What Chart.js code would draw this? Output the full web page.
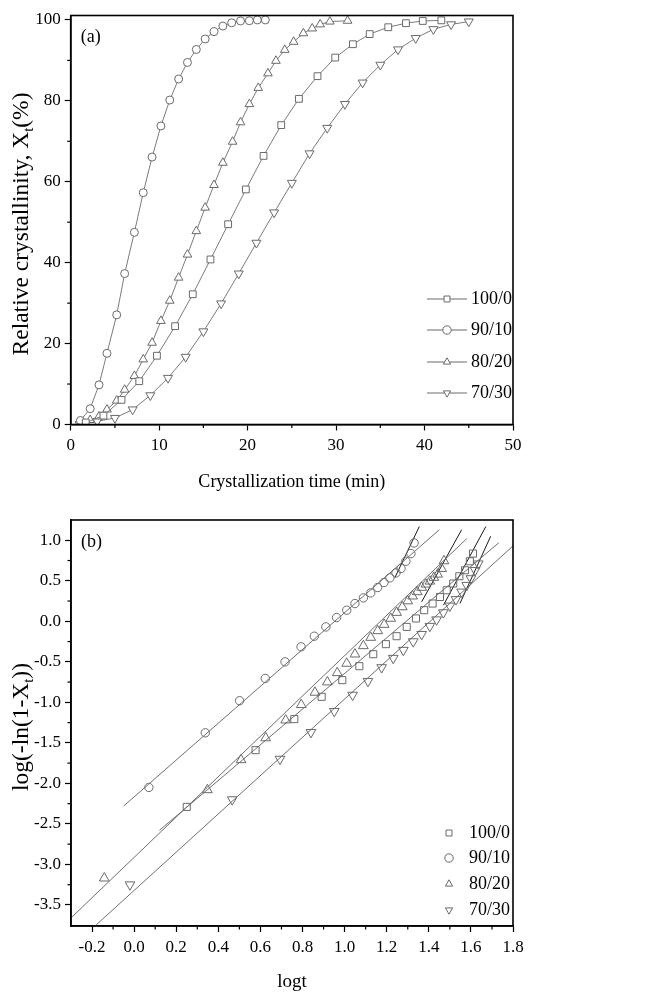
<!DOCTYPE html>
<html><head><meta charset="utf-8">
<script src="https://cdn.jsdelivr.net/npm/chart.js@4.4.0/dist/chart.umd.min.js"></script>
<style>
html,body{margin:0;padding:0;background:#fff;}
#wrap{position:relative;width:645px;height:992px;background:#fff;}
canvas{position:absolute;left:0;}
#c1{top:0;}
#c2{top:500px;}
</style></head><body>
<div id="wrap">
<canvas id="c1" width="645" height="500" style="width:645px;height:500px"></canvas>
<canvas id="c2" width="645" height="492" style="width:645px;height:492px"></canvas>
</div>
<script>
// ---------- (a) Relative crystallinity vs time ----------
const seriesNames = ['100/0', '90/10', '80/20', '70/30'];

const t_100_0 = [1.7, 3.7, 5.75, 7.75, 9.75, 11.8, 13.8, 15.8, 17.8, 19.8, 21.8, 23.8, 25.8, 27.9, 29.9, 31.9, 33.8, 35.9, 37.9, 39.8, 41.9];
const X_100_0 = [0.5, 2.2, 6.1, 10.7, 17.0, 24.3, 32.2, 40.8, 49.5, 58.1, 66.4, 74.0, 80.5, 86.1, 90.7, 94.0, 96.5, 98.2, 99.2, 99.75, 99.9];

const t_90_10 = [1.1, 2.2, 3.2, 4.1, 5.2, 6.1, 7.2, 8.2, 9.2, 10.2, 11.2, 12.2, 13.2, 14.2, 15.2, 16.2, 17.2, 18.2, 19.2, 20.2, 21.1, 22.0];
const X_90_10 = [1.0, 3.9, 9.8, 17.6, 27.1, 37.3, 47.5, 57.3, 66.1, 73.8, 80.2, 85.4, 89.5, 92.7, 95.3, 97.1, 98.5, 99.3, 99.75, 99.8, 100, 100];

const t_80_20 = [1.2, 2.2, 3.2, 4.1, 5.2, 6.1, 7.2, 8.2, 9.2, 10.2, 11.2, 12.2, 13.2, 14.2, 15.2, 16.2, 17.2, 18.3, 19.2, 20.2, 21.2, 22.3, 23.2, 24.2, 25.2, 26.3, 27.3, 28.2, 29.3, 31.3];
const X_80_20 = [0.2, 1.1, 2.0, 3.7, 5.9, 8.6, 12.0, 16.1, 20.2, 25.6, 30.6, 36.3, 42.0, 47.8, 53.6, 59.2, 64.7, 69.9, 74.7, 79.2, 83.2, 86.8, 89.9, 92.6, 94.6, 96.7, 97.9, 98.9, 99.6, 99.8];

const t_70_30 = [1, 3, 5, 7, 9, 11, 13, 15, 17, 19, 21, 23, 25, 27, 29, 31, 33, 35, 37, 39, 41, 43, 45];
const X_70_30 = [0.1, 0.8, 1.6, 3.7, 7.2, 11.5, 16.7, 23.0, 29.9, 37.3, 44.9, 52.4, 59.7, 67.0, 73.3, 79.2, 84.5, 88.9, 92.7, 95.5, 97.7, 98.9, 99.6];

const aXMajor = [0, 10, 20, 30, 40, 50];
const aXMinor = [5, 15, 25, 35, 45];
const aYMajor = [0, 20, 40, 60, 80, 100];
const aYMinor = [10, 30, 50, 70, 90];

// ---------- (b) Avrami plot ----------
const lt_100_0 = [0.25, 0.577, 0.761, 0.891, 0.989, 1.07, 1.136, 1.196, 1.247, 1.295, 1.339, 1.378, 1.418, 1.453, 1.485, 1.516, 1.545, 1.572, 1.595, 1.61];
const ly_100_0 = [-2.29, -1.59, -1.207, -0.932, -0.726, -0.554, -0.406, -0.282, -0.184, -0.069, 0.035, 0.137, 0.219, 0.30, 0.383, 0.466, 0.556, 0.63, 0.741, 0.836];

const lt_90_10 = [0.07, 0.338, 0.501, 0.623, 0.717, 0.793, 0.856, 0.911, 0.962, 1.010, 1.049, 1.089, 1.124, 1.157, 1.187, 1.215, 1.244, 1.268, 1.291, 1.315, 1.33];
const ly_90_10 = [-2.05, -1.376, -0.98, -0.705, -0.50, -0.315, -0.184, -0.069, 0.046, 0.137, 0.219, 0.289, 0.35, 0.417, 0.479, 0.536, 0.597, 0.651, 0.741, 0.836, 0.967];

const lt_80_20 = [-0.142, 0.348, 0.508, 0.625, 0.72, 0.794, 0.859, 0.918, 0.965, 1.01, 1.049, 1.089, 1.124, 1.157, 1.188, 1.219, 1.247, 1.274, 1.30, 1.323, 1.345, 1.366, 1.386, 1.405, 1.424, 1.442, 1.461, 1.472];
const ly_80_20 = [-3.17, -2.08, -1.71, -1.44, -1.22, -1.03, -0.878, -0.75, -0.636, -0.52, -0.406, -0.303, -0.20, -0.118, -0.04, 0.035, 0.108, 0.177, 0.25, 0.31, 0.363, 0.417, 0.457, 0.494, 0.54, 0.58, 0.65, 0.745];

const lt_70_30 = [-0.02, 0.466, 0.693, 0.84, 0.951, 1.038, 1.111, 1.176, 1.231, 1.279, 1.326, 1.366, 1.405, 1.437, 1.469, 1.50, 1.529, 1.556, 1.58, 1.60, 1.62, 1.635];
const ly_70_30 = [-3.25, -2.20, -1.70, -1.37, -1.11, -0.91, -0.74, -0.57, -0.455, -0.356, -0.25, -0.16, -0.06, 0.02, 0.108, 0.19, 0.27, 0.363, 0.445, 0.528, 0.63, 0.71];

// fitted lines: [logt start, logt end], [y start, y end]
const fitMain_x = {'100/0': [0.12, 1.733], '90/10': [-0.05, 1.45], '80/20': [-0.3, 1.58], '70/30': [-0.186, 1.8]};
const fitMain_y = {'100/0': [-2.58, 0.97], '90/10': [-2.28, 1.13], '80/20': [-3.66, 1.02], '70/30': [-3.76, 0.93]};
const fitLate_x = {'100/0': [1.47, 1.671], '90/10': [1.239, 1.355], '80/20': [1.366, 1.556], '70/30': [1.548, 1.694]};
const fitLate_y = {'100/0': [0.2, 1.17], '90/10': [0.54, 1.17], '80/20': [0.24, 1.13], '70/30': [0.22, 1.05]};

const bXMajor = [-0.2, 0, 0.2, 0.4, 0.6, 0.8, 1.0, 1.2, 1.4, 1.6, 1.8];
const bXMinor = [-0.1, 0.1, 0.3, 0.5, 0.7, 0.9, 1.1, 1.3, 1.5, 1.7];
const bYMajor = [-3.5, -3.0, -2.5, -2.0, -1.5, -1.0, -0.5, 0.0, 0.5, 1.0];
const bYMinor = [-3.25, -2.75, -2.25, -1.75, -1.25, -0.75, -0.25, 0.25, 0.75];

// ---------- helpers ----------
const SERIF = "'Liberation Serif', 'Times New Roman', 'DejaVu Serif', serif";
const toXY = (xs, ys) => xs.map((v, i) => ({x: v, y: ys[i]}));
const markerStyle = {
  '100/0': {pointStyle: 'rect', rotation: 0},
  '90/10': {pointStyle: 'circle', rotation: 0},
  '80/20': {pointStyle: 'triangle', rotation: 0},
  '70/30': {pointStyle: 'triangle', rotation: 180}
};
const markerColor = '#6a6a6a';

function drawMarker(ctx, style, x, y, r, fill) {
  ctx.beginPath();
  if (style === '100/0') {
    const s = r * Math.SQRT1_2;
    ctx.rect(x - s, y - s, 2 * s, 2 * s);
  } else if (style === '90/10') {
    ctx.arc(x, y, r, 0, Math.PI * 2);
  } else {
    const dir = style === '80/20' ? -1 : 1;
    const w = r * Math.sqrt(3) / 2;
    ctx.moveTo(x, y + dir * r);
    ctx.lineTo(x - w, y - dir * r / 2);
    ctx.lineTo(x + w, y - dir * r / 2);
    ctx.closePath();
  }
  ctx.fillStyle = fill; ctx.fill();
  ctx.stroke();
}

function drawTitleParts(ctx, parts, cx, cy, size, rotate) {
  ctx.save();
  ctx.translate(cx, cy);
  if (rotate) ctx.rotate(-Math.PI / 2);
  let total = 0;
  parts.forEach(p => {
    ctx.font = (p.sub ? size * 0.62 : size) + 'px ' + SERIF;
    p.w = ctx.measureText(p.t).width;
    total += p.w;
  });
  let x = -total / 2;
  ctx.fillStyle = '#000';
  ctx.textBaseline = 'middle';
  ctx.textAlign = 'left';
  parts.forEach(p => {
    ctx.font = (p.sub ? size * 0.62 : size) + 'px ' + SERIF;
    ctx.fillText(p.t, x, p.sub ? size * 0.3 : 0);
    x += p.w;
  });
  ctx.restore();
}

function decor(cfg) {
  return {
    id: 'decor',
    afterDraw(chart) {
      const ctx = chart.ctx, a = chart.chartArea;
      const xs = chart.scales.x, ys = chart.scales.y;
      ctx.save();
      ctx.strokeStyle = '#000';
      ctx.lineWidth = 1.6;
      ctx.strokeRect(a.left, a.top, a.right - a.left, a.bottom - a.top);
      ctx.lineWidth = 1.2;
      cfg.xMinor.forEach(v => {
        const p = xs.getPixelForValue(v);
        ctx.beginPath(); ctx.moveTo(p, a.bottom); ctx.lineTo(p, a.bottom + 3.5); ctx.stroke();
      });
      cfg.yMinor.forEach(v => {
        const p = ys.getPixelForValue(v);
        ctx.beginPath(); ctx.moveTo(a.left, p); ctx.lineTo(a.left - 3.5, p); ctx.stroke();
      });
      // panel label
      ctx.fillStyle = '#000';
      ctx.font = '18px ' + SERIF;
      ctx.textBaseline = 'middle';
      ctx.textAlign = 'left';
      ctx.fillText(cfg.panel, a.left + 10, a.top + 22);
      // titles
      drawTitleParts(ctx, [{t: cfg.xTitle}], (a.left + a.right) / 2, cfg.xTitleY, cfg.xTitleSize, false);
      drawTitleParts(ctx, cfg.yTitle, 22, cfg.yTitleY, cfg.yTitleSize, true);
      // legend
      ctx.lineWidth = 1;
      ctx.font = '18px ' + SERIF;
      seriesNames.forEach((name, i) => {
        const y = cfg.legRows[i];
        ctx.strokeStyle = markerColor;
        if (cfg.legLines) {
          ctx.beginPath();
          ctx.moveTo(cfg.legX - 20, y); ctx.lineTo(cfg.legX + 20, y);
          ctx.stroke();
        }
        drawMarker(ctx, name, cfg.legX, y, cfg.legR, '#fff');
        ctx.fillStyle = '#000';
        ctx.textBaseline = 'middle';
        ctx.textAlign = 'left';
        ctx.fillText(name, cfg.legTextX, y);
      });
      ctx.restore();
    }
  };
}

const tickFont = {family: SERIF, size: 17};
function fmt1(v) { return Math.abs(v) < 1e-9 ? '0.0' : v.toFixed(1); }

// ---------- chart (a) ----------
const aSets = [
  [t_100_0, X_100_0, '100/0', 4.8],
  [t_90_10, X_90_10, '90/10', 4.0],
  [t_80_20, X_80_20, '80/20', 5.0],
  [t_70_30, X_70_30, '70/30', 5.2]
].map(([xs, ys, name, r]) => ({
  label: name,
  data: toXY(xs, ys),
  showLine: true,
  borderColor: '#7c7c7c',
  borderWidth: 1,
  pointStyle: markerStyle[name].pointStyle,
  rotation: markerStyle[name].rotation,
  pointRadius: r,
  pointBorderColor: markerColor,
  pointBackgroundColor: '#fff',
  pointBorderWidth: 1
}));

new Chart(document.getElementById('c1'), {
  type: 'scatter',
  data: {datasets: aSets},
  options: {
    responsive: false, animation: false,
    layout: {padding: {left: 0, right: 132, top: 15.5, bottom: 0}},
    plugins: {legend: {display: false}, tooltip: {enabled: false}},
    scales: {
      x: {
        type: 'linear', min: 0, max: 50,
        afterFit: s => { s.height = 75.5; },
        afterBuildTicks: s => { s.ticks = aXMajor.map(v => ({value: v})); },
        ticks: {font: tickFont, color: '#000', padding: 5, maxRotation: 0, callback: v => String(v)},
        grid: {drawOnChartArea: false, drawTicks: true, tickLength: 6, tickColor: '#000', tickWidth: 1.2},
        border: {display: true, color: '#000', width: 1.6}
      },
      y: {
        type: 'linear', min: 0, max: 101.1,
        afterFit: s => { s.width = 70.7; },
        afterBuildTicks: s => { s.ticks = aYMajor.map(v => ({value: v})); },
        ticks: {font: tickFont, color: '#000', padding: 4, callback: v => String(v)},
        grid: {drawOnChartArea: false, drawTicks: true, tickLength: 6, tickColor: '#000', tickWidth: 1.2},
        border: {display: true, color: '#000', width: 1.6}
      }
    }
  },
  plugins: [decor({
    xMinor: aXMinor, yMinor: aYMinor, panel: '(a)',
    xTitle: 'Crystallization time (min)', xTitleY: 482, xTitleSize: 18,
    yTitle: [{t: 'Relative crystallinity, X'}, {t: 't', sub: true}, {t: '(%)'}], yTitleY: 224, yTitleSize: 23.5,
    legRows: [299, 330, 362, 393], legX: 447, legR: 4.2, legLines: true, legTextX: 471
  })]
});

// ---------- chart (b) ----------
const bPoints = [
  [lt_100_0, ly_100_0, '100/0', 5.0],
  [lt_90_10, ly_90_10, '90/10', 4.2],
  [lt_80_20, ly_80_20, '80/20', 5.6],
  [lt_70_30, ly_70_30, '70/30', 5.6]
].map(([xs, ys, name, r]) => ({
  label: name,
  data: toXY(xs, ys),
  showLine: false,
  pointStyle: markerStyle[name].pointStyle,
  rotation: markerStyle[name].rotation,
  pointRadius: r,
  pointBorderColor: markerColor,
  pointBackgroundColor: 'rgba(255,255,255,0)',
  pointBorderWidth: 1
}));
const bLines = [];
seriesNames.forEach(name => {
  bLines.push({
    label: name + ' fit',
    data: toXY(fitMain_x[name], fitMain_y[name]),
    showLine: true, pointRadius: 0, borderColor: '#6e6e6e', borderWidth: 1
  });
  bLines.push({
    label: name + ' fit2',
    data: toXY(fitLate_x[name], fitLate_y[name]),
    showLine: true, pointRadius: 0, borderColor: '#1a1a1a', borderWidth: 1
  });
});

new Chart(document.getElementById('c2'), {
  type: 'scatter',
  data: {datasets: bPoints.concat(bLines)},
  options: {
    responsive: false, animation: false,
    layout: {padding: {left: 0, right: 132, top: 20, bottom: 0}},
    plugins: {legend: {display: false}, tooltip: {enabled: false}},
    scales: {
      x: {
        type: 'linear', min: -0.3, max: 1.8,
        afterFit: s => { s.height = 66; },
        afterBuildTicks: s => { s.ticks = bXMajor.map(v => ({value: v})); },
        ticks: {font: tickFont, color: '#000', padding: 5, maxRotation: 0, callback: v => fmt1(v)},
        grid: {drawOnChartArea: false, drawTicks: true, tickLength: 6, tickColor: '#000', tickWidth: 1.2},
        border: {display: true, color: '#000', width: 1.6}
      },
      y: {
        type: 'linear', min: -3.76, max: 1.25,
        afterFit: s => { s.width = 71; },
        afterBuildTicks: s => { s.ticks = bYMajor.map(v => ({value: v})); },
        ticks: {font: tickFont, color: '#000', padding: 4, callback: v => fmt1(v)},
        grid: {drawOnChartArea: false, drawTicks: true, tickLength: 6, tickColor: '#000', tickWidth: 1.2},
        border: {display: true, color: '#000', width: 1.6}
      }
    }
  },
  plugins: [decor({
    xMinor: bXMinor, yMinor: bYMinor, panel: '(b)',
    xTitle: 'logt', xTitleY: 482, xTitleSize: 19,
    yTitle: [{t: 'log(-ln(1-X'}, {t: 't', sub: true}, {t: '))'}], yTitleY: 227, yTitleSize: 23.5,
    legRows: [333, 358, 384, 410], legX: 449, legR: 4.2, legLines: false, legTextX: 469
  })]
});
</script>
</body></html>
